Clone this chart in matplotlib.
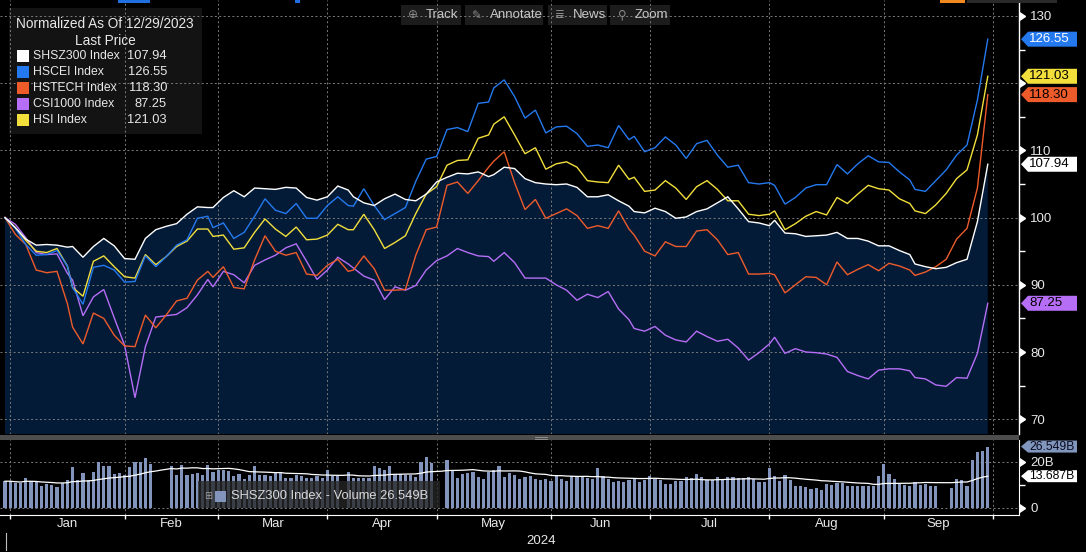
import numpy as np
import pandas as pd
import matplotlib
matplotlib.use("Agg")
import matplotlib.pyplot as plt
from matplotlib.patches import Rectangle, Polygon
import matplotlib.transforms as mtransforms

plt.rcParams['font.family'] = ['Liberation Sans', 'DejaVu Sans']

# ---------------- data ----------------
holidays = ['2024-01-01', '2024-02-12', '2024-02-13', '2024-02-14',
            '2024-04-04', '2024-05-01', '2024-06-10']

sample_dates = ['2023-12-29', '2024-01-03', '2024-01-05', '2024-01-09', '2024-01-11', '2024-01-15',
                '2024-01-17', '2024-01-18', '2024-01-22', '2024-01-24', '2024-01-26', '2024-01-30',
                '2024-02-01', '2024-02-05', '2024-02-07', '2024-02-09', '2024-02-16', '2024-02-20',
                '2024-02-22', '2024-02-26', '2024-02-28', '2024-02-29', '2024-03-04', '2024-03-06',
                '2024-03-08', '2024-03-12', '2024-03-14', '2024-03-18', '2024-03-20', '2024-03-22',
                '2024-03-26', '2024-03-28', '2024-04-01', '2024-04-03', '2024-04-08', '2024-04-09',
                '2024-04-11', '2024-04-15', '2024-04-17', '2024-04-19', '2024-04-23', '2024-04-25',
                '2024-04-29', '2024-05-02', '2024-05-06', '2024-05-08', '2024-05-10', '2024-05-14',
                '2024-05-16', '2024-05-17', '2024-05-21', '2024-05-23', '2024-05-27', '2024-05-29',
                '2024-05-31', '2024-06-04', '2024-06-06', '2024-06-11', '2024-06-13', '2024-06-17',
                '2024-06-19', '2024-06-21', '2024-06-25', '2024-06-26', '2024-06-28', '2024-07-02',
                '2024-07-04', '2024-07-08', '2024-07-10', '2024-07-12', '2024-07-16', '2024-07-18',
                '2024-07-22', '2024-07-24', '2024-07-26', '2024-07-30', '2024-08-01', '2024-08-02',
                '2024-08-06', '2024-08-08', '2024-08-12', '2024-08-14', '2024-08-16', '2024-08-20',
                '2024-08-22', '2024-08-26', '2024-08-28', '2024-08-30', '2024-09-03', '2024-09-05',
                '2024-09-09', '2024-09-10', '2024-09-12', '2024-09-16', '2024-09-18', '2024-09-20',
                '2024-09-24', '2024-09-26', '2024-09-30']

shsz300 = [100.0, 98.5, 96.8, 95.9, 96.0, 95.9, 95.6, 95.7, 94.1, 95.7,
           96.9, 95.8, 93.9, 93.8, 96.9, 98.2, 98.7, 99.1, 100.5, 101.6,
           101.5, 101.5, 103.0, 104.0, 103.1, 104.4, 104.3, 104.2, 104.5, 104.4,
           103.0, 102.6, 103.1, 104.7, 104.1, 103.1, 102.2, 101.8, 102.8, 103.5,
           102.7, 102.5, 103.5, 105.3, 106.0, 106.6, 106.5, 106.8, 106.1, 106.4,
           107.5, 107.3, 105.8, 105.2, 105.0, 104.9, 105.0, 104.5, 103.1, 103.1,
           103.4, 102.5, 101.7, 100.9, 100.7, 101.4, 100.9, 99.9, 100.1, 100.9,
           101.3, 102.2, 103.1, 101.3, 99.4, 99.2, 98.8, 99.6, 97.7, 97.6,
           97.2, 97.3, 97.4, 97.8, 96.9, 96.9, 96.5, 95.8, 95.8, 95.1,
           94.5, 93.1, 92.7, 92.4, 92.6, 93.3, 93.8, 99.4, 107.94]

hscei = [100.0, 98.4, 96.0, 94.4, 94.5, 95.1, 92.8, 89.6, 87.1, 92.6,
         92.9, 92.2, 90.4, 90.5, 94.3, 92.7, 94.2, 95.9, 96.7, 99.9,
         100.2, 98.5, 99.2, 96.9, 97.8, 100.2, 102.8, 101.1, 100.6, 102.1,
         99.9, 99.9, 101.8, 103.1, 101.8, 101.7, 104.3, 101.8, 99.7, 100.6,
         101.5, 105.4, 108.7, 109.1, 113.1, 113.4, 112.8, 117.0, 117.2, 119.3,
         120.5, 118.0, 114.8, 116.0, 112.6, 113.5, 113.6, 112.5, 110.6, 110.8,
         110.4, 113.7, 111.6, 112.1, 109.8, 110.4, 112.0, 110.8, 108.8, 111.0,
         111.5, 109.3, 107.5, 107.8, 105.2, 105.0, 105.2, 104.8, 102.0, 103.0,
         104.4, 104.9, 104.9, 107.9, 106.5, 108.0, 109.2, 108.3, 108.2, 106.8,
         105.6, 104.2, 103.9, 105.5, 107.1, 109.3, 110.8, 117.5, 126.55]

hstech = [100.0, 97.5, 96.0, 92.2, 91.8, 92.0, 87.2, 83.7, 81.2, 85.8,
          85.0, 82.5, 80.9, 80.8, 85.5, 83.6, 85.5, 87.6, 88.0, 90.7,
          92.0, 91.1, 92.7, 89.6, 89.4, 93.7, 97.3, 95.0, 94.4, 94.8,
          91.6, 91.4, 92.9, 93.8, 92.0, 92.2, 94.3, 92.4, 89.2, 89.2,
          89.3, 94.4, 98.2, 98.6, 104.8, 105.3, 103.6, 105.5, 107.5, 108.4,
          109.8, 105.2, 101.2, 102.7, 99.9, 100.6, 101.3, 100.3, 98.4, 98.8,
          98.4, 101.0, 98.3, 97.4, 95.0, 94.3, 96.4, 95.7, 95.7, 98.0,
          98.2, 96.7, 94.5, 94.8, 91.6, 91.6, 91.7, 91.5, 88.8, 90.0,
          91.2, 91.1, 90.0, 93.4, 91.5, 92.3, 93.0, 92.1, 93.2, 92.8,
          92.2, 91.4, 91.9, 92.7, 93.8, 96.8, 98.4, 104.4, 118.30]

csi1000 = [100.0, 99.0, 97.0, 94.8, 94.5, 94.6, 91.7, 90.7, 85.4, 88.2,
           89.3, 85.1, 81.0, 73.2, 80.8, 85.2, 85.4, 85.6, 86.6, 88.5,
           90.8, 89.7, 92.0, 91.5, 90.3, 92.9, 93.7, 94.4, 95.5, 96.1,
           93.5, 90.8, 92.2, 94.1, 93.1, 92.5, 91.3, 90.7, 87.8, 89.7,
           89.2, 89.9, 92.2, 93.6, 94.3, 95.4, 94.8, 94.3, 94.2, 93.5,
           94.8, 93.3, 91.0, 91.0, 91.0, 90.0, 89.2, 87.7, 88.6, 88.1,
           89.0, 86.4, 84.8, 83.5, 83.1, 83.8, 82.5, 81.8, 81.5, 83.1,
           82.3, 81.6, 81.9, 80.6, 78.8, 79.9, 81.2, 82.2, 79.8, 80.5,
           80.0, 79.9, 79.7, 79.2, 77.1, 76.5, 76.0, 77.3, 77.5, 77.5,
           77.2, 76.2, 76.0, 75.1, 74.9, 76.2, 76.1, 79.8, 87.25]

hsi = [100.0, 98.5, 96.6, 95.0, 94.8, 95.4, 92.8, 89.6, 88.3, 93.5,
       94.3, 92.7, 91.2, 91.0, 94.5, 93.0, 94.2, 95.7, 96.5, 98.3,
       98.3, 97.2, 97.4, 95.3, 95.5, 97.8, 99.8, 98.3, 97.2, 98.6,
       96.7, 96.8, 97.4, 99.0, 98.2, 98.2, 100.5, 98.2, 95.4, 96.3,
       97.3, 100.6, 103.5, 104.6, 107.8, 108.5, 108.6, 111.8, 112.3, 113.9,
       115.0, 112.3, 109.5, 110.4, 107.2, 108.0, 108.3, 107.5, 105.5, 105.3,
       105.2, 107.8, 105.7, 106.0, 103.9, 104.1, 105.5, 104.4, 102.7, 104.6,
       105.5, 104.2, 102.5, 102.5, 100.5, 100.3, 100.5, 101.0, 98.2, 99.1,
       100.2, 100.9, 100.4, 103.0, 102.1, 103.5, 104.8, 104.3, 104.1, 102.8,
       102.1, 101.0, 100.6, 101.9, 103.6, 105.8, 107.1, 112.3, 121.03]

nan = float('nan')
# SHSZ300 daily volume (billions), one value per trading day of the axis calendar
volume_b = ([11.5, 11.5, 10.8, 10.8, 12.7, 11.5, 11.0, 9.6, 10.1, 9.9, 8.9, 10.6, 12.0, 17.6, 12.0,
             15.1, 12.0, 15.5, 19.7, 18.0, 18.3, 14.8, 15.2, 14.4, 17.6, 20.0, 20.0, 21.8, 19.0]
            + [nan, nan, nan]
            + [18.3, 14.1, 18.7, 14.4, 14.8, 15.1, 14.4, 18.7, 15.5, 16.2, 16.2, 15.8, 13.8, 14.8, 12.3,
               14.1, 17.9, 14.1, 14.1, 13.7, 15.5, 15.1, 13.0, 13.0, 14.1, 13.8, 12.7, 13.0, 13.7, 13.0,
               16.2, 13.7, 13.7]
            + [nan]
            + [15.5, 12.7, 12.7, 13.0, 13.0, 18.3, 17.3, 16.5, 17.9, 14.8, 14.8, 14.4, 14.1, 13.5, 19.7,
               22.1, 19.3]
            + [nan, nan]
            + [20.8, 16.2, 12.7, 14.5, 15.1, 15.5, 13.4, 12.3, 15.5, 16.2, 18.3, 13.4, 15.1, 14.1, 12.3, 13.4]
            + [13.6, 12.6, 11.9, 12.6, 11.4, 14.3, 12.6, 11.4, 13.6, 13.6,
               13.3, 12.9, 12.6, 17.4, 13.9, 12.6, 11.0, 11.4, 11.0, 12.1,
               12.6, 11.0, 11.9, 13.9, 12.6, 11.9, 10.4, 10.4, 11.4, 11.4,
               13.3, 12.9, 14.6, 13.3, 12.1, 12.1, 13.3, 12.1, 13.3, 13.3,
               12.9, 12.9, 13.3, 12.4, 11.1, 11.0, 17.1, 13.9, 11.7, 14.3,
               12.1, 9.6, 9.6, 9.0, 8.3, 8.6, 7.9, 10.4, 10.0, 10.7,
               10.7, 9.3, 9.6, 9.6, 9.3, 9.3, 9.3, 13.6, 19.0, 14.7,
               12.4, 10.4, 10.0, 9.3, 11.1, 10.0, 10.4, 9.6, 9.3]
            + [nan, nan]
            + [8.6, 12.4, 12.0, 9.6, 20.8, 24.3, 24.7, 26.549])
volume_ma_last = 13.687

series_names = ['SHSZ300 Index', 'HSCEI Index', 'HSTECH Index', 'CSI1000 Index', 'HSI Index']
last_prices = [107.94, 126.55, 118.30, 87.25, 121.03]
month_labels = ['Jan', 'Feb', 'Mar', 'Apr', 'May', 'Jun', 'Jul', 'Aug', 'Sep']
year_label = '2024'

# ---------------- style ----------------
W, H = 1086, 552
BG = '#000000'
FILL = '#041b38'
GRID = '#7c7c7c'
C_WHITE = '#ffffff'
C_BLUE = '#2479ee'
C_ORANGE = '#ee5b2b'
C_PURPLE = '#b56ef5'
C_YELLOW = '#f2df3c'
C_VOL = '#8294bb'
TXT = '#e8e8e8'

colors = [C_WHITE, C_BLUE, C_ORANGE, C_PURPLE, C_YELLOW]
series = [shsz300, hscei, hstech, csi1000, hsi]

# trading-day axis (union calendar)
days = pd.bdate_range('2023-12-29', '2024-09-30')
days = days[~days.isin(pd.to_datetime(holidays))]
xs = days.get_indexer(pd.to_datetime(sample_dates))
assert (xs >= 0).all()
for s in series:
    assert len(s) == len(sample_dates)
vol = np.array(volume_b, dtype=float)
assert len(vol) == len(days)
xv = np.arange(len(days))
vol_ma = pd.Series(vol).rolling(20, min_periods=1).mean().values

month_starts = pd.date_range('2024-01-01', '2024-10-01', freq='MS')
tick_pos = np.searchsorted(days.values, month_starts.values)
label_pos = [(tick_pos[i] + tick_pos[i + 1]) / 2 for i in range(len(month_labels))]

fig = plt.figure(figsize=(W / 100, H / 100), dpi=100, facecolor=BG)


def fx(px):
    return px / W


def fy(py):
    return 1 - py / H


XL = (-0.96, 195.0)

# ---------------- main panel ----------------
ax = fig.add_axes([0, fy(434), fx(1019), 434 / H], facecolor=BG)
ax.set_xlim(*XL)
ax.set_ylim(67.8, 132.38)
for sp in ['left', 'top', 'bottom']:
    ax.spines[sp].set_visible(False)
ax.spines['right'].set_color('white')
ax.spines['right'].set_linewidth(1.0)
ax.set_xticks([])
ax.yaxis.tick_right()
yt = list(range(70, 131, 10))
ax.set_yticks(yt)
# the 120 label sits under the HSI / HSTECH value tags, as in the original
ax.set_yticklabels(['' if v == 120 else str(v) for v in yt], color=TXT, fontsize=9.5)
ax.set_yticks(list(range(75, 130, 10)), minor=True)
ax.tick_params(axis='y', which='major', length=0, pad=8)
ax.tick_params(axis='y', which='minor', length=4, width=1, color='white', direction='out')
bt = mtransforms.blended_transform_factory(ax.transAxes, ax.transData)
ax.plot([1.0] * len(yt), yt, ls='none', marker=9, ms=5.5, color='white',
        transform=bt, clip_on=False, zorder=6)

for v in yt:
    ax.axhline(v, color=GRID, lw=0.7, ls=(0, (2, 2.5)), zorder=1.5)
for t in tick_pos:
    ax.axvline(t, color=GRID, lw=0.7, ls=(0, (2, 2.5)), zorder=1.5)

ax.fill_between(xs, shsz300, 0, color=FILL, lw=0, zorder=1)
for s, c, z in zip([csi1000, hstech, hsi, hscei, shsz300],
                   [C_PURPLE, C_ORANGE, C_YELLOW, C_BLUE, C_WHITE],
                   [2, 2.1, 2.2, 2.3, 2.4]):
    ax.plot(xs, s, color=c, lw=1.0, zorder=z, solid_joinstyle='miter')

# legend box (top-left)
ax.add_patch(Rectangle((fx(9), fy(134)), fx(193), 126 / H, transform=fig.transFigure,
                       fc='#151515', ec='none', alpha=0.95, zorder=1.2))
ax.text(fx(16), fy(24), 'Normalized As Of 12/29/2023', transform=fig.transFigure,
        color=TXT, fontsize=9.8, va='center', ha='left', zorder=7)
ax.text(fx(105), fy(41), 'Last Price', transform=fig.transFigure,
        color=TXT, fontsize=9.8, va='center', ha='center', zorder=7)
row_y = [56, 72, 88, 104, 120]
for name, val, c, ry in zip(series_names, last_prices, colors, row_y):
    ax.add_patch(Rectangle((fx(17), fy(ry + 6)), fx(12), 12 / H, transform=fig.transFigure,
                           fc=c, ec='none', zorder=7))
    ax.text(fx(33), fy(ry), name, transform=fig.transFigure, color=TXT, fontsize=8.8,
            va='center', ha='left', zorder=7)
    ax.text(fx(167), fy(ry), f'{val:.2f}', transform=fig.transFigure, color=TXT, fontsize=9.3,
            va='center', ha='right', zorder=7)

# toolbar
tb = [(401, 461, '\u2295', 'Track'), (465, 543, '\u270e', 'Annotate'),
      (548, 607, '\u2263', 'News'), (610, 670, '\u26b2', 'Zoom')]
for x0, x1, icon, lab in tb:
    ax.add_patch(Rectangle((fx(x0), fy(25)), fx(x1 - x0), 20 / H, transform=fig.transFigure,
                           fc='#1c1c1c', ec='none', zorder=1.2))
    ax.text(fx(x0 + 12), fy(15), icon, transform=fig.transFigure, color='#8a8a8a',
            fontsize=8.5, va='center', ha='center', family=['DejaVu Sans'], zorder=7)
    ax.text(fx(x0 + 25), fy(15), lab, transform=fig.transFigure, color='#c8c8c8',
            fontsize=9.5, va='center', ha='left', zorder=7)

# top edge strips
for x0, x1, c in [(118, 150, '#1f6fe0'), (295, 300, '#1f6fe0'), (940, 965, '#f08a20'),
                  (967, 1057, '#2a2a2a')]:
    fig.add_artist(Rectangle((fx(x0), fy(3)), fx(x1 - x0), 3 / H, transform=fig.transFigure,
                             fc=c, ec='none', zorder=5))

# separator
fig.add_artist(Rectangle((0, fy(440)), fx(1019), 5 / H, transform=fig.transFigure,
                         fc='#4d4d4d', ec='none', zorder=5))
for yy in (436.5, 438.5):
    fig.add_artist(plt.Line2D([fx(535), fx(547)], [fy(yy), fy(yy)], color='#9a9a9a', lw=0.6,
                              transform=fig.transFigure, zorder=6))

# ---------------- volume panel ----------------
vx = fig.add_axes([0, fy(515), fx(1019), 75 / H], facecolor=BG)
vx.set_xlim(*XL)
vx.set_ylim(-3.17, 29.4)
for sp in ['left', 'top']:
    vx.spines[sp].set_visible(False)
vx.spines['right'].set_color('white')
vx.spines['bottom'].set_color('white')
vx.yaxis.tick_right()
vx.set_yticks([0, 20])
vx.set_yticklabels(['0', '20B'], color=TXT, fontsize=9.5)
vx.set_yticks([10], minor=True)
vx.tick_params(axis='y', which='major', length=0, pad=8)
vx.tick_params(axis='y', which='minor', length=4, width=1, color='white')
bv = mtransforms.blended_transform_factory(vx.transAxes, vx.transData)
vx.plot([1.0, 1.0], [0, 20], ls='none', marker=9, ms=5.5, color='white', transform=bv,
        clip_on=False, zorder=6)
vx.set_xticks(tick_pos)
vx.set_xticklabels([])
vx.tick_params(axis='x', length=3, width=1, color='white', direction='out')
for v in (0, 20):
    vx.axhline(v, color=GRID, lw=0.7, ls=(0, (2, 2.5)), zorder=0.5)
for t in tick_pos:
    vx.axvline(t, color=GRID, lw=0.7, ls=(0, (2, 2.5)), zorder=0.5)

vx.bar(xv, np.nan_to_num(vol), width=0.6, color=C_VOL, zorder=1)
vx.plot(xv, vol_ma, color='white', lw=0.9, zorder=2)

# volume legend box
vx.add_patch(Rectangle((fx(198), fy(508)), fx(242), 27 / H, transform=fig.transFigure,
                       fc='#262626', ec='none', alpha=0.78, zorder=3))
vx.text(fx(208), fy(496), '\u229e', transform=fig.transFigure, color='#9a9a9a', fontsize=7,
        va='center', ha='center', family=['DejaVu Sans'], zorder=4)
vx.add_patch(Rectangle((fx(215), fy(502)), fx(11), 11 / H, transform=fig.transFigure,
                       fc=C_VOL, ec='none', zorder=4))
vx.text(fx(231), fy(496), f'SHSZ300 Index - Volume {vol[-1]:.3f}B', transform=fig.transFigure,
        color='#d8d8d8', fontsize=9.3, va='center', ha='left', zorder=4)

# month labels
for lab, p in zip(month_labels, label_pos):
    fig.text(fx(5 + p * 5.2), fy(524), lab, color=TXT, fontsize=9.5, ha='center', va='center')
fig.text(0.5 - 2 / W, fy(541), year_label, color=TXT, fontsize=9.5, ha='center', va='center')
fig.add_artist(plt.Line2D([fx(6), fx(6)], [fy(533), fy(550)], color='#bdbdbd', lw=0.8,
                          transform=fig.transFigure))


# ---------------- value tags ----------------
def tag(axis, val, text, fc, tc, hpx=15, fs=9.5):
    _, yd = axis.transData.transform((0, val))
    yf = yd / (H)
    h = hpx / 2 / H
    x0, xn, x1 = fx(1021), fx(1028), fx(1077)
    fig.add_artist(Polygon([(x0, yf), (xn, yf + h), (x1, yf + h), (x1, yf - h), (xn, yf - h)],
                           closed=True, transform=fig.transFigure, fc=fc, ec='none', zorder=10))
    fig.text(fx(1029), yf, text, color=tc, fontsize=fs, va='center', ha='left', zorder=11)


tag(ax, hscei[-1], f'{hscei[-1]:.2f}', C_BLUE, 'white')
tag(ax, hsi[-1], f'{hsi[-1]:.2f}', C_YELLOW, 'black')
tag(ax, hstech[-1], f'{hstech[-1]:.2f}', C_ORANGE, 'black')
tag(ax, shsz300[-1], f'{shsz300[-1]:.2f}', 'white', 'black')
tag(ax, csi1000[-1], f'{csi1000[-1]:.2f}', C_PURPLE, 'black')
tag(vx, vol[-1], f'{vol[-1]:.3f}B', '#8096bd', '#0a0a1e', hpx=12, fs=8.8)
tag(vx, volume_ma_last, f'{volume_ma_last:.3f}B', 'white', 'black', hpx=12, fs=8.8)

fig.savefig('out.png', dpi=100, facecolor=BG)
